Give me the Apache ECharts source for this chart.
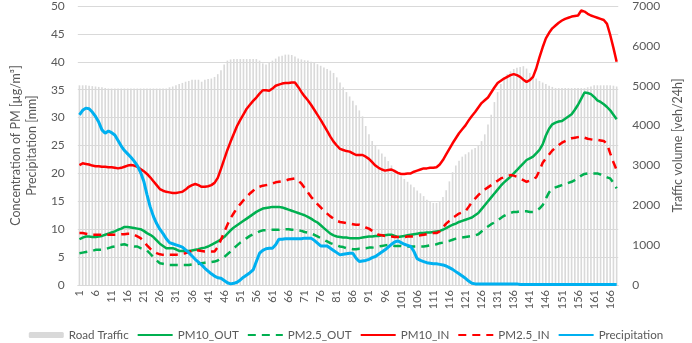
<!DOCTYPE html>
<html>
<head>
<meta charset="utf-8">
<script src="https://cdn.jsdelivr.net/npm/echarts@6/dist/echarts.min.js"></script>
<style>
  html, body { margin: 0; padding: 0; background: #fff; }
  #chart { width: 692px; height: 343px; }
</style>
</head>
<body>
<div id="chart"></div>
<script>
// hours 1..168
const hours = []
for (let h = 1; h <= 168; h++) hours.push(String(h))

const roadTraffic = [
  5010, 5010, 5010, 5000, 4990, 4980, 4970, 4960, 4940, 4930,
  4930, 4930, 4930, 4930, 4930, 4930, 4930, 4930, 4930, 4930,
  4930, 4930, 4930, 4930, 4930, 4930, 4930, 4930, 4960, 4980,
  5010, 5040, 5070, 5100, 5120, 5150, 5150, 5150, 5100, 5150,
  5170, 5180, 5220, 5290, 5390, 5530, 5630, 5660, 5670, 5670,
  5670, 5670, 5670, 5670, 5670, 5670, 5630, 5560, 5530, 5570,
  5630, 5680, 5730, 5750, 5780, 5780, 5770, 5730, 5680, 5660,
  5640, 5630, 5600, 5570, 5540, 5500, 5460, 5420, 5380, 5320,
  5210, 5080, 4960, 4840, 4730, 4620, 4510, 4380, 4230, 3990,
  3780, 3610, 3500, 3400, 3300, 3220, 3110, 3000, 2900, 2810,
  2730, 2660, 2590, 2520, 2450, 2370, 2300, 2230, 2140, 2090,
  2060, 2060, 2090, 2210, 2380, 2600, 2830, 3000, 3120, 3220,
  3280, 3330, 3400, 3440, 3490, 3610, 3780, 4030, 4270, 4590,
  4840, 5040, 5210, 5290, 5360, 5420, 5450, 5470, 5490, 5430,
  5320, 5240, 5180, 5120, 5080, 5040, 5000, 4970, 4940, 4940,
  4940, 4940, 4940, 4940, 4940, 4940, 4940, 4940, 4960, 4980,
  5010, 5010, 5010, 5010, 5010, 5010, 5000, 4980
]

const pm10Out = [
  8.2, 8.5, 8.7, 8.7, 8.6, 8.6, 8.7, 8.8, 9.0, 9.2,
  9.4, 9.6, 9.9, 10.1, 10.4, 10.4, 10.3, 10.2, 10.1, 10.0,
  9.7, 9.3, 9.0, 8.6, 8.0, 7.4, 7.0, 6.6, 6.6, 6.6,
  6.4, 6.1, 6.1, 6.1, 6.1, 6.2, 6.3, 6.4, 6.6, 6.7,
  6.9, 7.2, 7.5, 7.8, 8.2, 8.6, 9.2, 9.8, 10.3, 10.7,
  11.1, 11.5, 11.9, 12.3, 12.7, 13.1, 13.4, 13.7, 13.8, 13.9,
  14.0, 14.0, 14.0, 13.9, 13.7, 13.5, 13.3, 13.1, 12.9, 12.7,
  12.5, 12.2, 11.9, 11.5, 11.2, 10.7, 10.2, 9.7, 9.2, 8.9,
  8.7, 8.6, 8.5, 8.5, 8.4, 8.4, 8.4, 8.4, 8.5, 8.6,
  8.7, 8.7, 8.8, 8.8, 8.9, 8.9, 9.0, 9.0, 8.8, 8.6,
  8.7, 8.8, 8.9, 9.0, 9.1, 9.2, 9.3, 9.3, 9.4, 9.4,
  9.5, 9.6, 9.7, 9.9, 10.2, 10.5, 10.8, 11.0, 11.3, 11.5,
  11.7, 11.9, 12.1, 12.5, 12.9, 13.6, 14.3, 15.0, 15.7, 16.4,
  17.1, 17.8, 18.4, 18.9, 19.4, 20.0, 20.6, 21.2, 21.8, 22.4,
  22.7, 23.0, 23.6, 24.2, 25.2, 26.8, 28.0, 28.8, 29.1, 29.3,
  29.4, 29.8, 30.2, 30.6, 31.4, 32.3, 33.4, 34.5, 34.4, 34.2,
  33.7, 33.1, 32.8, 32.4, 31.9, 31.3, 30.5, 29.7
]

const pm25Out = [
  5.7, 5.8, 5.9, 6.0, 6.1, 6.3, 6.3, 6.3, 6.4, 6.6,
  6.8, 6.9, 7.1, 7.2, 7.3, 7.1, 7.0, 6.9, 6.9, 6.6,
  6.4, 6.2, 5.6, 5.0, 4.4, 3.9, 3.8, 3.7, 3.6, 3.6,
  3.6, 3.6, 3.6, 3.6, 3.6, 3.7, 3.7, 3.8, 3.9, 4.0,
  4.1, 4.1, 4.2, 4.4, 4.7, 5.0, 5.5, 6.0, 6.6, 7.1,
  7.6, 8.0, 8.4, 8.8, 9.1, 9.3, 9.6, 9.8, 9.8, 9.9,
  9.9, 9.9, 9.9, 10.0, 10.0, 10.0, 9.9, 9.9, 9.8, 9.7,
  9.5, 9.4, 9.2, 9.0, 8.7, 8.4, 8.1, 7.8, 7.5, 7.3,
  7.1, 6.9, 6.8, 6.6, 6.5, 6.4, 6.4, 6.5, 6.5, 6.6,
  6.7, 6.7, 6.8, 6.9, 7.0, 7.1, 7.2, 7.1, 7.0, 7.0,
  7.0, 6.9, 6.9, 6.9, 6.9, 6.9, 6.9, 6.9, 7.0, 7.1,
  7.2, 7.3, 7.5, 7.6, 7.8, 7.9, 8.1, 8.3, 8.4, 8.5,
  8.6, 8.7, 8.8, 8.9, 9.1, 9.6, 10.1, 10.5, 10.9, 11.2,
  11.6, 12.0, 12.4, 12.7, 12.9, 13.1, 13.1, 13.2, 13.2, 13.2,
  13.1, 13.1, 13.3, 13.7, 14.3, 15.5, 16.6, 17.3, 17.5, 17.7,
  17.9, 18.1, 18.3, 18.5, 18.8, 19.2, 19.6, 19.9, 20.0, 20.0,
  20.0, 20.0, 19.8, 19.5, 19.3, 19.1, 18.3, 17.3
]

const pm10In = [
  21.5, 21.8, 21.7, 21.6, 21.4, 21.3, 21.3, 21.2, 21.2, 21.1,
  21.1, 21.0, 20.9, 21.0, 21.2, 21.4, 21.5, 21.4, 21.2, 20.8,
  20.4, 19.9, 19.3, 18.6, 17.9, 17.2, 16.9, 16.7, 16.6, 16.5,
  16.5, 16.6, 16.7, 17.1, 17.6, 17.9, 18.1, 17.9, 17.6, 17.6,
  17.7, 17.9, 18.3, 19.2, 20.8, 22.5, 24.2, 25.7, 27.1, 28.5,
  29.6, 30.6, 31.6, 32.3, 33.0, 33.6, 34.3, 34.9, 34.9, 34.8,
  35.2, 35.7, 35.9, 36.1, 36.2, 36.2, 36.3, 36.3, 35.5, 34.6,
  33.8, 33.1, 32.3, 31.4, 30.5, 29.6, 28.6, 27.6, 26.6, 25.7,
  25.0, 24.4, 24.2, 24.0, 23.9, 23.6, 23.3, 23.3, 23.3, 23.0,
  22.6, 22.0, 21.4, 21.0, 20.7, 20.5, 20.6, 20.7, 20.4, 20.1,
  19.9, 19.9, 20.0, 20.0, 20.3, 20.5, 20.7, 20.9, 20.9, 21.0,
  21.0, 21.1, 21.6, 22.4, 23.4, 24.4, 25.4, 26.3, 27.2, 27.9,
  28.6, 29.5, 30.3, 31.0, 31.8, 32.6, 33.1, 33.6, 34.5, 35.4,
  36.2, 36.6, 37.0, 37.3, 37.6, 37.8, 37.6, 37.3, 36.8, 36.4,
  36.7, 37.3, 38.8, 40.8, 42.6, 44.2, 45.2, 46.0, 46.5, 47.0,
  47.4, 47.7, 47.9, 48.1, 48.2, 48.3, 49.2, 49.0, 48.6, 48.3,
  48.1, 47.9, 47.7, 47.5, 46.8, 44.8, 42.5, 40.0
]

const pm25In = [
  9.3, 9.3, 9.2, 9.1, 9.0, 9.0, 9.0, 9.0, 9.0, 9.0,
  9.0, 9.0, 9.0, 9.1, 9.1, 9.2, 9.2, 9.0, 8.7, 8.4,
  7.8, 7.1, 6.5, 6.0, 5.7, 5.5, 5.4, 5.4, 5.4, 5.4,
  5.4, 5.5, 5.6, 5.7, 5.9, 6.1, 6.3, 6.2, 6.1, 6.0,
  6.0, 6.0, 6.0, 6.8, 8.1, 9.5, 10.8, 12.0, 12.9, 13.8,
  14.5, 15.2, 15.8, 16.4, 16.9, 17.4, 17.6, 17.8, 17.9, 18.0,
  18.2, 18.4, 18.5, 18.6, 18.7, 18.9, 19.0, 19.1, 18.7, 18.2,
  17.4, 16.6, 15.8, 15.2, 14.5, 13.9, 13.3, 12.8, 12.3, 11.9,
  11.5, 11.3, 11.2, 11.1, 11.0, 10.9, 10.8, 10.8, 10.6, 10.3,
  10.1, 9.7, 9.3, 9.0, 8.9, 8.8, 8.7, 8.7, 8.6, 8.6,
  8.6, 8.6, 8.7, 8.7, 8.7, 8.8, 8.9, 9.0, 9.1, 9.2,
  9.3, 9.3, 9.6, 10.3, 11.0, 11.5, 12.0, 12.4, 12.8, 13.0,
  13.2, 14.0, 14.8, 15.5, 16.1, 16.7, 17.1, 17.5, 17.9, 18.3,
  18.7, 19.1, 19.3, 19.5, 19.7, 19.6, 19.4, 19.1, 18.8, 18.5,
  18.7, 19.0, 19.3, 20.5, 21.9, 22.7, 23.4, 24.1, 24.6, 25.1,
  25.5, 25.8, 26.1, 26.3, 26.4, 26.5, 26.6, 26.4, 26.2, 26.1,
  26.0, 26.0, 25.9, 25.8, 25.3, 23.6, 22.0, 20.6
]

const precipitation = [
  30.5, 31.3, 31.7, 31.6, 31.0, 30.2, 29.2, 27.8, 27.2, 27.6,
  27.3, 26.9, 25.9, 24.9, 24.1, 23.5, 22.9, 22.2, 21.4, 20.2,
  18.6, 16.2, 14.0, 12.3, 11.0, 10.0, 9.2, 8.3, 7.6, 7.4,
  7.2, 7.0, 6.8, 6.3, 5.8, 5.2, 4.6, 4.1, 3.6, 3.0,
  2.5, 2.0, 1.6, 1.3, 1.2, 0.8, 0.4, 0.2, 0.3, 0.5,
  0.9, 1.4, 1.8, 2.2, 2.7, 4.2, 5.7, 6.2, 6.5, 6.6,
  6.6, 7.2, 8.2, 8.2, 8.3, 8.3, 8.3, 8.3, 8.3, 8.3,
  8.4, 8.4, 8.4, 8.0, 7.5, 7.0, 7.0, 7.0, 6.6, 6.2,
  5.8, 5.4, 5.5, 5.6, 5.7, 5.7, 4.8, 4.2, 4.3, 4.4,
  4.6, 4.9, 5.1, 5.5, 5.9, 6.3, 6.8, 7.3, 7.7, 7.9,
  7.6, 7.3, 7.1, 6.9, 6.0, 4.7, 4.4, 4.2, 4.0, 3.9,
  3.8, 3.8, 3.7, 3.6, 3.4, 3.1, 2.8, 2.4, 2.0, 1.6,
  1.2, 0.7, 0.3, 0.2, 0.2, 0.2, 0.2, 0.2, 0.2, 0.2,
  0.2, 0.2, 0.2, 0.2, 0.2, 0.2, 0.2, 0.1, 0.1, 0.1,
  0.1, 0.1, 0.1, 0.1, 0.1, 0.1, 0.1, 0.1, 0.1, 0.1,
  0.1, 0.1, 0.1, 0.1, 0.1, 0.1, 0.1, 0.1, 0.1, 0.1,
  0.1, 0.1, 0.1, 0.1, 0.1, 0.1, 0.1, 0.1
]

const leftTicks = { min: 0, max: 50, interval: 5 }
const rightTicks = { min: 0, max: 7000, interval: 1000 }

;[roadTraffic, pm10Out, pm25Out, pm10In, pm25In, precipitation].forEach((arr, i) => {
  if (arr.length !== hours.length) throw new Error('series ' + i + ' has ' + arr.length)
})

const FONT = 'Lato'
const TEXT = '#595959'
const GREEN = '#00b050'
const RED = '#ff0000'
const BLUE = '#00b0f0'

const lineSeries = (name, data, color, dashed, width) => ({
  name,
  type: 'line',
  data,
  symbol: 'none',
  smooth: false,
  z: 3,
  lineStyle: {
    color,
    width: width || 2.5,
    type: dashed ? [8, 6] : 'solid',
    cap: 'butt'
  },
  itemStyle: { color }
})

// line entries in the legend: keep the stroke, hide the marker
const lineLegend = name => ({ name, itemStyle: { opacity: 0 } })

const chart = echarts.init(document.getElementById('chart'))
chart.setOption({
  animation: false,
  textStyle: { fontFamily: FONT },
  grid: { left: 61, right: 61, top: 6, bottom: 58 },
  legend: {
    top: 322,
    left: 'center',
    itemWidth: 35,
    itemHeight: 6,
    itemGap: 8,
    textStyle: { color: TEXT, fontSize: 11.6, lineHeight: 16, fontFamily: FONT },
    data: [
      'Road Traffic',
      lineLegend('PM10_OUT'),
      lineLegend('PM2.5_OUT'),
      lineLegend('PM10_IN'),
      lineLegend('PM2.5_IN'),
      lineLegend('Precipitation')
    ]
  },
  xAxis: {
    type: 'category',
    data: hours,
    boundaryGap: true,
    axisLine: { show: true, lineStyle: { color: '#d9d9d9' } },
    axisTick: { show: false },
    axisLabel: {
      interval: 4,
      rotate: 90,
      color: TEXT,
      fontSize: 11,
      margin: 5,
      fontFamily: FONT
    }
  },
  yAxis: [
    {
      type: 'value',
      min: leftTicks.min,
      max: leftTicks.max,
      interval: leftTicks.interval,
      name: 'Concentration of PM [µg/m³]\nPrecipitation [mm]',
      nameLocation: 'middle',
      nameRotate: 90,
      nameGap: 34,
      nameTextStyle: { color: TEXT, fontSize: 12.5, lineHeight: 16, fontFamily: FONT },
      axisLine: { show: false },
      axisTick: { show: false },
      axisLabel: { color: TEXT, fontSize: 12, margin: 13, fontFamily: FONT },
      splitLine: { lineStyle: { color: '#d9d9d9', width: 1 } }
    },
    {
      type: 'value',
      min: rightTicks.min,
      max: rightTicks.max,
      interval: rightTicks.interval,
      name: 'Traffic volume [veh/24h]',
      nameLocation: 'middle',
      nameRotate: 90,
      nameGap: 47,
      nameTextStyle: { color: TEXT, fontSize: 12.5, fontFamily: FONT },
      axisLine: { show: false },
      axisTick: { show: false },
      axisLabel: { color: TEXT, fontSize: 12, margin: 14, fontFamily: FONT, formatter: v => String(v) },
      splitLine: { show: false }
    }
  ],
  series: [
    {
      name: 'Road Traffic',
      type: 'bar',
      yAxisIndex: 1,
      data: roadTraffic,
      barWidth: '50%',
      z: 1,
      itemStyle: { color: '#d9d9d9' }
    },
    lineSeries('PM10_OUT', pm10Out, GREEN, false),
    lineSeries('PM2.5_OUT', pm25Out, GREEN, true),
    lineSeries('PM10_IN', pm10In, RED, false),
    lineSeries('PM2.5_IN', pm25In, RED, true),
    lineSeries('Precipitation', precipitation, BLUE, false, 3)
  ]
})
</script>
</body>
</html>
